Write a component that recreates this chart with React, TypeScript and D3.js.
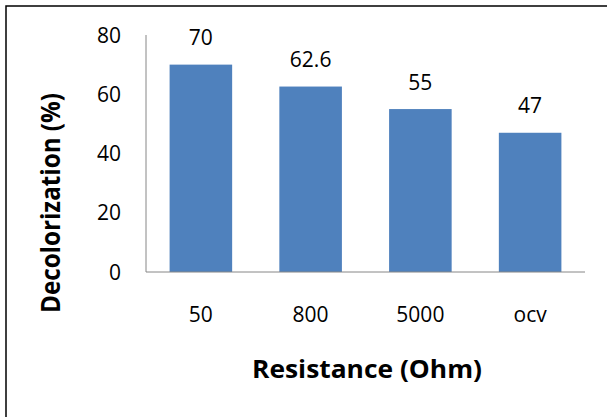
import React from "react"
import * as d3 from "d3"

const categories = ["50", "800", "5000", "ocv"]
const values = [70, 62.6, 55, 47]
const yTicks = [0, 20, 40, 60, 80]

const W = 607
const H = 417

export default function App() {
    const plot = { left: 146, right: 585, top: 35, bottom: 272 }

    const x = d3
        .scaleBand()
        .domain(categories)
        .range([plot.left, plot.right])
        .paddingInner(0.43)
        .paddingOuter(0.215)
    const y = d3
        .scaleLinear()
        .domain([0, 80])
        .range([plot.bottom, plot.top])

    const font = "'Open Sans', sans-serif"

    return (
        <svg
            width={W}
            height={H}
            style={{ position: "absolute", left: 0, top: 0, background: "#fff" }}
        >
            <rect x={6} y={6} width={W + 10} height={H + 10} fill="#fff" stroke="#000" strokeWidth={1.5} />

            {values.map((v, i) => (
                <rect
                    key={categories[i]}
                    x={x(categories[i])}
                    y={y(v)}
                    width={x.bandwidth()}
                    height={y(0) - y(v)}
                    fill="#4F81BD"
                />
            ))}

            {/* axes */}
            <line x1={plot.left} x2={plot.left} y1={plot.top} y2={plot.bottom} stroke="#868686" />
            <line x1={plot.left} x2={plot.right} y1={plot.bottom} y2={plot.bottom} stroke="#868686" />

            {yTicks.map(t => (
                <text
                    key={t}
                    x={121}
                    y={y(t)}
                    dy="0.36em"
                    textAnchor="end"
                    fontFamily={font}
                    fontSize={21}
                    fill="#000"
                >
                    {t}
                </text>
            ))}

            {categories.map(c => (
                <text
                    key={c}
                    x={x(c)! + x.bandwidth() / 2}
                    y={322}
                    textAnchor="middle"
                    fontFamily={font}
                    fontSize={21}
                    fill="#000"
                >
                    {c}
                </text>
            ))}

            {values.map((v, i) => (
                <text
                    key={"l" + i}
                    x={x(categories[i])! + x.bandwidth() / 2}
                    y={y(v) - 19.5}
                    textAnchor="middle"
                    fontFamily={font}
                    fontSize={21}
                    fill="#000"
                >
                    {v}
                </text>
            ))}

            <text
                x={367}
                y={378}
                textAnchor="middle"
                fontFamily={font}
                fontWeight="bold"
                fontSize={25}
                textLength={230}
                lengthAdjust="spacingAndGlyphs"
                fill="#000"
            >
                Resistance (Ohm)
            </text>
            <text
                transform="translate(60,203) rotate(-90)"
                textAnchor="middle"
                fontFamily={font}
                fontWeight="bold"
                fontSize={27}
                textLength={220}
                lengthAdjust="spacingAndGlyphs"
                fill="#000"
            >
                Decolorization (%)
            </text>
        </svg>
    )
}
